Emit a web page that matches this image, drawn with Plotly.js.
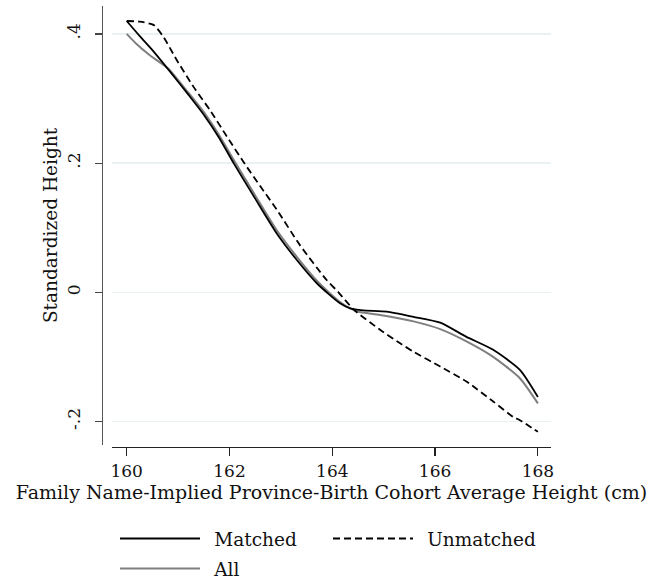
<!DOCTYPE html>
<html>
<head>
<meta charset="utf-8">
<script src="https://cdn.plot.ly/plotly-3.0.1.min.js"></script>
<style>
  html, body { margin: 0; padding: 0; background: #fff; }
  #chart { width: 652px; height: 581px; }
</style>
</head>
<body>
<div id="chart"></div>
<script>
// Local polynomial fits of standardized height on implied average height
const matchedX = [160.0, 160.25, 160.5, 160.84, 161.2, 161.5, 161.8, 162.08, 162.5, 162.92, 163.31, 163.7, 163.92, 164.15, 164.35, 164.6, 165.06, 165.58, 166.1, 166.61, 167.13, 167.65, 168.0];
const matchedY = [0.420, 0.397, 0.375, 0.342, 0.306, 0.275, 0.239, 0.200, 0.145, 0.091, 0.050, 0.014, -0.002, -0.017, -0.025, -0.028, -0.030, -0.038, -0.047, -0.069, -0.089, -0.120, -0.162];

const unmatchedX = [160.0, 160.25, 160.52, 160.71, 160.97, 161.3, 161.62, 161.95, 162.27, 162.6, 162.92, 163.37, 163.89, 164.12, 164.42, 164.93, 165.32, 165.58, 166.1, 166.61, 167.13, 167.52, 167.65, 168.0];
const unmatchedY = [0.420, 0.419, 0.414, 0.396, 0.360, 0.318, 0.282, 0.241, 0.202, 0.164, 0.128, 0.073, 0.019, 0.000, -0.027, -0.058, -0.079, -0.092, -0.115, -0.138, -0.169, -0.193, -0.198, -0.216];

const allX = [160.0, 160.17, 160.45, 160.75, 160.84, 161.2, 161.5, 161.8, 162.08, 162.5, 162.92, 163.31, 163.7, 163.92, 164.15, 164.35, 164.5, 164.93, 165.58, 166.1, 166.61, 167.13, 167.65, 168.0];
const allY = [0.400, 0.386, 0.367, 0.350, 0.344, 0.309, 0.279, 0.243, 0.205, 0.150, 0.096, 0.055, 0.018, 0.001, -0.015, -0.025, -0.030, -0.035, -0.045, -0.057, -0.076, -0.100, -0.133, -0.172];

const xTicks = [160, 162, 164, 166, 168];
const yTicks = [-0.2, 0, 0.2, 0.4];
const yTickText = ['-.2', '0', '.2', '.4'];

const FONT = 'DejaVu Serif, Liberation Serif, serif';
const INK = '#111';

const traces = [
  { x: allX, y: allY, name: '\u2002All', mode: 'lines', legend: 'legend3',
    line: { color: '#7f7f7f', width: 2, shape: 'spline', smoothing: 0.6 } },
  { x: matchedX, y: matchedY, name: '\u2002Matched', mode: 'lines', legend: 'legend',
    line: { color: '#000000', width: 1.8, shape: 'spline', smoothing: 0.6 } },
  { x: unmatchedX, y: unmatchedY, name: '\u2002Unmatched', mode: 'lines', legend: 'legend2',
    line: { color: '#000000', width: 1.8, dash: '7px,4px', shape: 'spline', smoothing: 0.6 } }
];

// one single-entry legend per key, laid out in two columns under the axis title
function key(x, y) {
  return {
    x: x, xanchor: 'left', y: y, yanchor: 'middle',
    itemwidth: 80,
    font: { family: FONT, size: 18.5, color: INK },
    bgcolor: 'rgba(0,0,0,0)', borderwidth: 0
  };
}

const layout = {
  width: 652, height: 581,
  paper_bgcolor: '#ffffff', plot_bgcolor: '#ffffff',
  font: { family: FONT, size: 18, color: INK },
  margin: { l: 102, r: 101, t: 6, b: 134, pad: 0, autoexpand: false },
  showlegend: true,
  xaxis: {
    domain: [10 / 449, 1],
    anchor: 'free', position: 0,
    range: [159.714, 168.255],
    tickvals: xTicks,
    ticks: 'outside', ticklen: 8, tickcolor: '#222', tickwidth: 1.2,
    showline: true, linecolor: '#222', linewidth: 1.2,
    showgrid: false, zeroline: false,
    tickfont: { family: FONT, size: 17, color: INK },
    title: { text: 'Family Name-Implied Province-Birth Cohort Average Height (cm)',
             font: { family: FONT, size: 19, color: INK }, standoff: 2 }
  },
  yaxis: {
    domain: [2 / 441, 1],
    anchor: 'free', position: 0,
    range: [-0.2364, 0.4432],
    tickvals: yTicks, ticktext: yTickText,
    tickangle: -90,
    ticks: 'outside', ticklen: 7, tickcolor: '#444', tickwidth: 1.2,
    ticklabelstandoff: 8,
    showline: true, linecolor: '#555', linewidth: 1.2,
    showgrid: true, gridcolor: '#eaf1f3', gridwidth: 1.5,
    zeroline: false,
    tickfont: { family: FONT, size: 17, color: INK },
    title: { text: 'Standardized Height',
             font: { family: FONT, size: 18.5, color: INK }, standoff: 0 }
  },
  legend: key(13 / 449, -0.2086),
  legend2: key(226 / 449, -0.2086),
  legend3: key(13 / 449, -0.2766)
};

Plotly.newPlot('chart', traces, layout, { displayModeBar: false, staticPlot: true });
</script>
</body>
</html>
